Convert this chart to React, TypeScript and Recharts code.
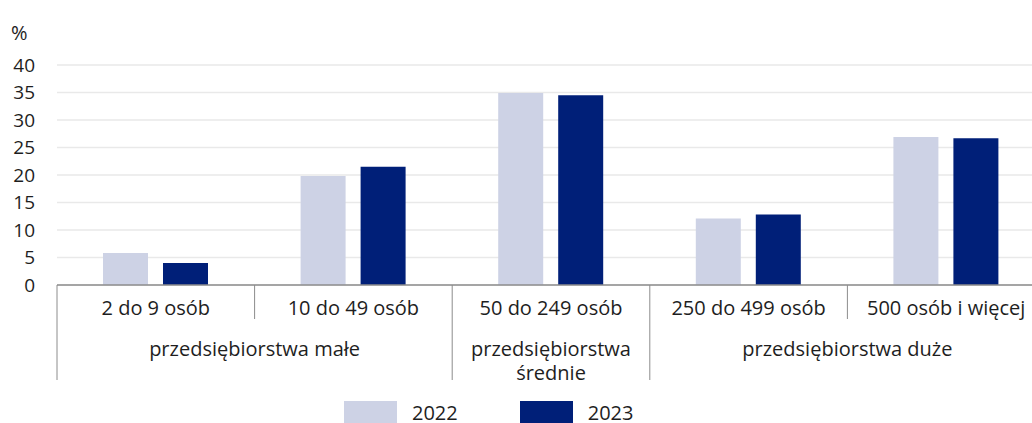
import { BarChart, Bar, XAxis, YAxis, CartesianGrid, Legend } from "recharts";

const categories = ["2 do 9 osób", "10 do 49 osób", "50 do 249 osób", "250 do 499 osób", "500 osób i więcej"];
const groupOf = [0, 0, 1, 2, 2];
const groupLabels = [["przedsiębiorstwa małe"], ["przedsiębiorstwa", "średnie"], ["przedsiębiorstwa duże"]];
const values2022 = [5.8, 19.8, 34.9, 12.1, 26.9];
const values2023 = [4.0, 21.5, 34.5, 12.8, 26.7];
const yTicks = [0, 5, 10, 15, 20, 25, 30, 35, 40];
const seriesNames = ["2022", "2023"];

const COLOR_2022 = "#cdd2e5";
const COLOR_2023 = "#001f78";
const FONT = "'Open Sans', sans-serif";
const TEXT = "#1e1e1e";
const LINE = "#8c8c8c";

const CHART_W = 1045;
const CHART_H = 423;
const MARGIN = { top: 65, right: 0, left: 0, bottom: 0 };
const Y_W = 57;
const BAND = (CHART_W - MARGIN.left - MARGIN.right - Y_W) / categories.length;

const data = categories.map((name, i) => ({
  name,
  v2022: values2022[i],
  v2023: values2023[i],
}));

// podpisy osi X w dwóch poziomach + linie podziału
function CategoryTick(props: { x?: number; y?: number; payload?: { index: number; value: string } }) {
  const { x = 0, y = 0, payload } = props;
  if (!payload) return null;
  const i = payload.index;
  const g = groupOf[i];
  const firstInGroup = i === 0 || groupOf[i - 1] !== g;
  const members = groupOf.map((gg, k) => (gg === g ? k : -1)).filter((k) => k >= 0);
  const groupCenter = x + ((members[0] + members[members.length - 1]) / 2 - i) * BAND;
  const left = x - BAND / 2;

  return (
    <g>
      <line x1={left} y1={y} x2={left} y2={y + (firstInGroup ? 95 : 34)} stroke={LINE} strokeWidth={1} />
      <text x={x} y={y + 30} textAnchor="middle" fill={TEXT} fontSize={20} fontFamily={FONT}>
        {payload.value}
      </text>
      {firstInGroup &&
        groupLabels[g].map((line, k) => (
          <text
            key={k}
            x={groupCenter}
            y={y + 71 + k * 24}
            textAnchor="middle"
            fill={TEXT}
            fontSize={20}
            fontFamily={FONT}
          >
            {line}
          </text>
        ))}
    </g>
  );
}

function LegendContent() {
  const colors = [COLOR_2022, COLOR_2023];
  return (
    <div
      style={{
        display: "flex",
        height: 22,
        paddingTop: 16,
        paddingLeft: 344,
        fontFamily: FONT,
        fontSize: 20,
        color: TEXT,
      }}
    >
      {seriesNames.map((s, i) => (
        <div key={s} style={{ display: "flex", alignItems: "flex-start", marginRight: 62, height: 22 }}>
          <div style={{ width: 53, height: 22, background: colors[i], marginRight: 15 }} />
          <span style={{ lineHeight: "22px", height: 22, position: "relative", top: 1 }}>{s}</span>
        </div>
      ))}
    </div>
  );
}

export default function App() {
  return (
    <div
      style={{
        position: "fixed",
        left: 0,
        top: 0,
        width: 1032,
        height: 423,
        overflow: "hidden",
        background: "#fff",
        fontFamily: FONT,
      }}
    >
      <div style={{ position: "absolute", left: 11, top: 19, fontSize: 20, color: TEXT }}>%</div>
      <BarChart width={CHART_W} height={CHART_H} data={data} margin={MARGIN} barGap={15} barSize={45}>
        <CartesianGrid vertical={false} stroke="#e9e9e9" strokeWidth={1.5} />
        <YAxis
          width={Y_W}
          domain={[0, 40]}
          ticks={yTicks}
          interval={0}
          axisLine={false}
          tickLine={false}
          tickSize={0}
          tickMargin={22}
          tick={{ fill: TEXT, fontSize: 19, fontFamily: FONT }}
        />
        <XAxis
          dataKey="name"
          height={100}
          interval={0}
          axisLine={{ stroke: LINE, strokeWidth: 1.5 }}
          tickLine={false}
          tickSize={0}
          tickMargin={0}
          tick={<CategoryTick />}
        />
        <Legend verticalAlign="bottom" wrapperStyle={{ left: 0, width: 1032, height: 38 }} content={<LegendContent />} />
        <Bar dataKey="v2022" name="2022" fill={COLOR_2022} isAnimationActive={false} />
        <Bar dataKey="v2023" name="2023" fill={COLOR_2023} isAnimationActive={false} />
      </BarChart>
    </div>
  );
}
